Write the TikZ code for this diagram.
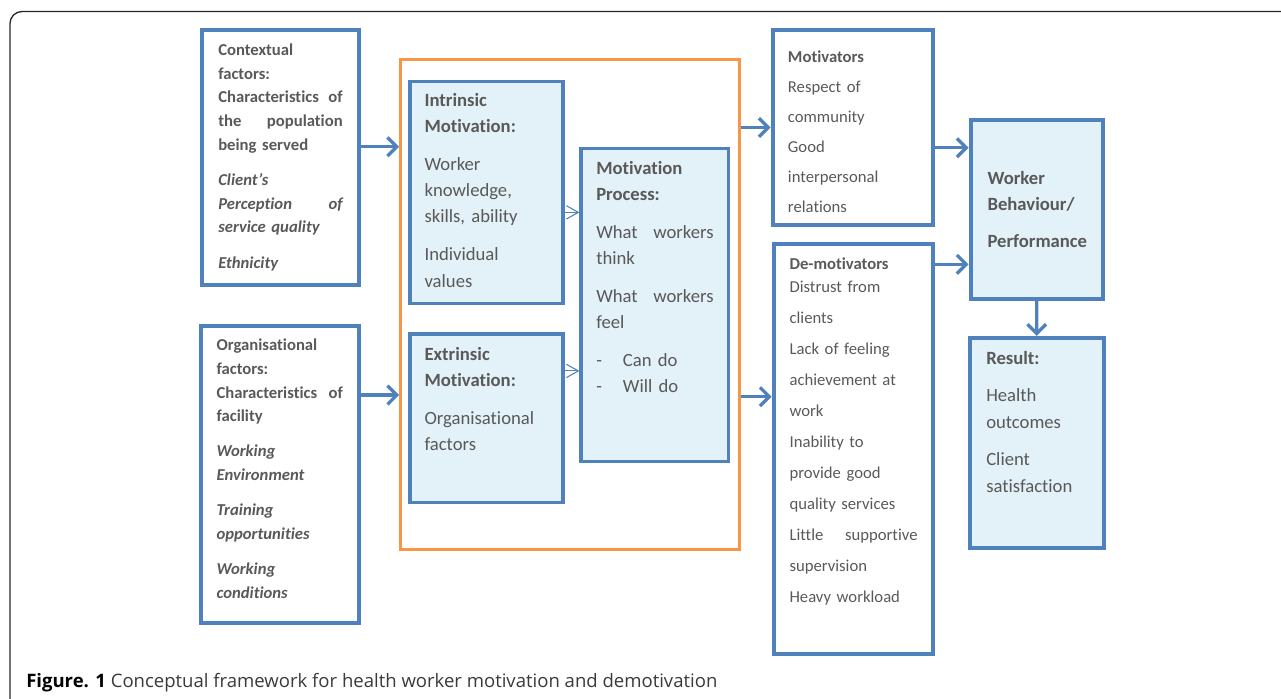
\documentclass[tikz,border=0pt]{standalone}
\usepackage{fontspec}
\setmainfont{Carlito}[Ligatures={TeX,NoCommon}]
\newfontfamily\capfont{Open Sans}
\usepackage{tikz}
\usetikzlibrary{fit, arrows.meta}
\definecolor{boxblue}{HTML}{4F81BD}
\definecolor{paleblue}{HTML}{E3F1F8}
\definecolor{coreorange}{HTML}{F79646}
\definecolor{textgray}{HTML}{595959}
\definecolor{capgray}{HTML}{3A3A3A}
\newcommand{\spreadline}[2]{\leavevmode\hbox to\linewidth{#1\hfill #2}}
\tikzset{
    factor/.style={
        draw = boxblue, line width = 3pt,
        inner sep = 0pt
    },
    stage/.style={
        draw = boxblue, line width = 2.3pt,
        fill = paleblue, inner sep = 0pt
    },
    outcome/.style={
        draw = boxblue, line width = 3.2pt,
        fill = paleblue, inner sep = 0pt
    },
    txt/.style = {
        anchor = base west, inner sep = 0pt,
        align = left, text = textgray
    },
    small/.style = {font = \fontsize{12.5}{17.8}\selectfont},
    large/.style = {font = \fontsize{14}{19.8}\selectfont},
    flow/.style = {draw = boxblue, line width = 2.5pt, -{Straight Barb[length=7pt, width=14pt]}},
    link/.style = {draw = boxblue, line width = 0.8pt, -{Straight Barb[length=9pt, width=10pt]}}
}

\begin{document}
\begin{tikzpicture}[x=0.75pt, y=-0.75pt]

    \useasboundingbox (0,0) rectangle (1281,699);

    % outer frame
    \draw[black!85, line width=1pt, rounded corners=9pt] (10,699) -- (10,11.5) -- (1281,11.5);

    % Factor boxes
    \node[factor, fit={(202,30) (358.7,285.3)}] (ctx) {};
    \node[txt, small, text width=93.3pt] (ctxtext) at (218,55.5)
        {\bfseries Contextual\\factors:\\\spreadline{Characteristics}{of}\\
         \spreadline{the}{population}\\being served\\[8.5pt]
         \itshape Client’s\\\spreadline{Perception}{of}\\service quality\\[8.5pt]
         Ethnicity};

    \node[factor, fit={(200.7,325.7) (359,622.8)}] (org) {};
    \node[txt, small, text width=94.8pt] (orgtext) at (216.3,350.7)
        {\bfseries Organisational\\factors:\\\spreadline{Characteristics}{of}\\
         facility\\[8.5pt]
         \itshape Working\\Environment\\[8.5pt]
         Training\\opportunities\\[8.5pt]
         Working\\conditions};

    % Motivation core
    \node[draw=coreorange, line width=2.3pt, inner sep=0pt, fit={(400.7,59.3) (739.3,549.3)}] (core) {};

    \node[stage, fit={(410,81.7) (563,303.3)}] (intr) {};
    \node[txt, large, text width=100pt] (intrtext) at (424.3,106)
        {\textbf{Intrinsic}\\\textbf{Motivation:}\\[8.5pt]
         Worker\\knowledge,\\skills, ability\\[8.5pt]
         Individual\\values};

    \node[stage, fit={(410,334) (563,502.3)}] (extr) {};
    \node[txt, large, text width=100pt] (extrtext) at (424.3,360)
        {\textbf{Extrinsic}\\\textbf{Motivation:}\\[8.5pt]
         Organisational\\factors};

    \node[stage, fit={(581,148.3) (728.7,461.7)}] (proc) {};
    \node[txt, large, text width=88pt] (proctext) at (596,174)
        {\textbf{Motivation}\\\textbf{Process:}\\[8.5pt]
         \spreadline{What}{workers}\\think\\[8.5pt]
         \spreadline{What}{workers}\\feel\\[8.5pt]
         \makebox[20pt][l]{-}Can do\\
         \makebox[20pt][l]{-}Will do};

    % Motivators and de-motivators
    \node[factor, fit={(772.7,30.3) (932.7,224.7)}] (mot) {};
    \node[txt, font=\fontsize{12.5}{22.5}\selectfont, text width=110pt] (mottext) at (787.7,62.3)
        {\textbf{Motivators}\\Respect of\\community\\Good\\interpersonal\\relations};

    \node[factor, fit={(773.7,244.3) (933,653.7)}] (dem) {};
    \node[txt, font=\fontsize{12.5}{23.25}\selectfont, text width=96pt] (demtext) at (789.3,269)
        {\textbf{De-motivators}\\[-5.8pt]Distrust from\\clients\\Lack of feeling\\achievement at\\work\\
         Inability to\\provide good\\quality services\\\spreadline{Little}{supportive}\\
         supervision\\Heavy workload};

    % Behaviour and result
    \node[outcome, fit={(970.7,119.7) (1102.8,298.8)}] (work) {};
    \node[txt, font=\fontsize{14}{20}\selectfont\bfseries, text width=95pt] (worktext) at (987.3,184)
        {Worker\\Behaviour/\\[7.7pt]Performance};

    \node[outcome, fit={(969.8,338) (1103.8,547.8)}] (res) {};
    \node[txt, font=\fontsize{14}{20}\selectfont, text width=95pt] (restext) at (986,364.3)
        {\textbf{Result:}\\[8.1pt]Health\\outcomes\\[8.1pt]Client\\satisfaction};

    % Lines
    \draw[flow] ([yshift=8.2pt]ctx.east) -- ([yshift=8.2pt]ctx.east -| core.west);
    \draw[flow] ([yshift=59.4pt]org.east) -- ([yshift=59.4pt]org.east -| core.west);
    \draw[link] ([yshift=-14.9pt]intr.east) -- ([yshift=-14.9pt]intr.east -| proc.west);
    \draw[link] ([yshift=35.4pt]extr.east) -- ([yshift=35.4pt]extr.east -| proc.west);
    \draw[flow] (mot.west -| core.east) -- (mot.west);
    \draw[flow] ([yshift=39.2pt]dem.west -| core.east) -- ([yshift=39.2pt]dem.west);
    \draw[flow] ([yshift=-15.2pt]mot.east) -- ([yshift=-15.2pt]mot.east -| work.west);
    \draw[flow] ([yshift=138.5pt]dem.east) -- ([yshift=138.5pt]dem.east -| work.west);
    \draw[flow] (work.south) -- (res.north);

    % Caption
    \node[anchor=base west, inner sep=0pt, font=\capfont\fontsize{13.9}{16}\selectfont] (caption) at (26,687)
        {\textbf{Figure. 1} {\color{capgray}Conceptual framework for health worker motivation and demotivation}};

\end{tikzpicture}
\end{document}
